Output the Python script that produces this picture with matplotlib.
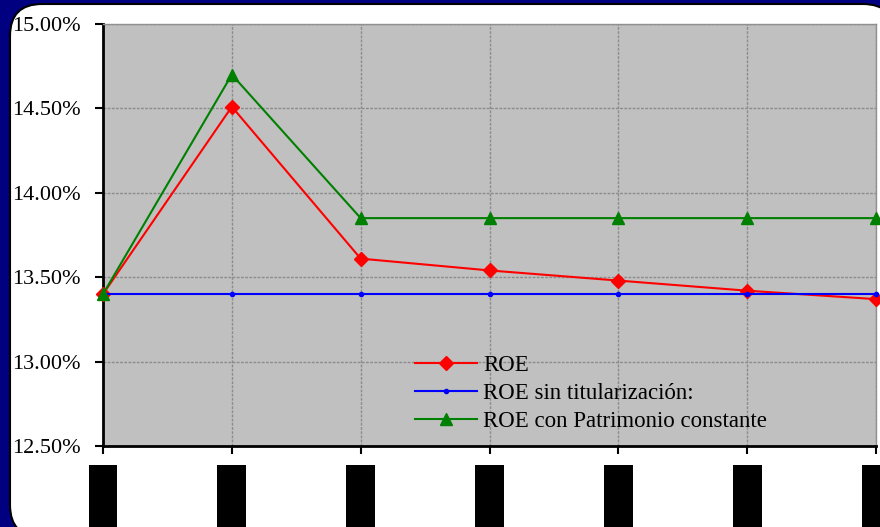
import matplotlib.pyplot as plt
from matplotlib.patches import FancyBboxPatch, Rectangle
from matplotlib.transforms import blended_transform_factory
from matplotlib.ticker import FuncFormatter

plt.rcParams['font.family'] = ['Liberation Serif', 'DejaVu Serif']

# ROE series, seven periods
periods = [0, 1, 2, 3, 4, 5, 6]
roe = [13.40, 14.51, 13.61, 13.54, 13.48, 13.42, 13.37]
roe_sin = [13.40, 13.40, 13.40, 13.40, 13.40, 13.40, 13.40]
roe_const = [13.40, 14.70, 13.85, 13.85, 13.85, 13.85, 13.85]

fig = plt.figure(figsize=(8.8, 5.27), dpi=100, facecolor='#000080')

# white rounded panel behind the chart
panel = FancyBboxPatch((10, -10), 885, 533, boxstyle='round,pad=0,rounding_size=32',
                       facecolor='white', edgecolor='black', linewidth=1.5,
                       transform=None, zorder=-10)
fig.patches.append(panel)

ax = fig.add_axes([103 / 880, 1 - 446 / 527, (876 - 103) / 880, (446 - 24) / 527])
ax.set_facecolor('#C0C0C0')

ax.plot(periods, roe, color='red', lw=1.5, marker='D', ms=7.5, clip_on=False, zorder=3, label='ROE')
ax.plot(periods, roe_sin, color='blue', lw=1.5, marker='o', ms=3, clip_on=False, zorder=3,
        label='ROE sin titularización:')
ax.plot(periods, roe_const, color='green', lw=1.5, marker='^', ms=9, clip_on=False, zorder=3,
        label='ROE con Patrimonio constante')

ax.set_xlim(0, 6)
ax.set_ylim(12.5, 15.0)
ax.set_yticks([12.5, 13.0, 13.5, 14.0, 14.5, 15.0])
ax.yaxis.set_major_formatter(FuncFormatter(lambda v, p: f'{v:.2f}%'))
ax.set_xticks(periods)
ax.set_xticklabels([])
ax.tick_params(axis='y', direction='out', length=5.8, width=1.5, labelsize=16, pad=10)
ax.tick_params(axis='x', direction='out', length=5.8, width=1.5)

ax.grid(True, ls=(0, (2, 1)), color='#8c8c8c', lw=1)
ax.set_axisbelow(True)
for s in ['left', 'bottom']:
    ax.spines[s].set_linewidth(2)
    ax.spines[s].set_color('black')
for s in ['top', 'right']:
    ax.spines[s].set_linewidth(1)
    ax.spines[s].set_color('#909090')

# category labels shown as solid blocks under each tick
trans = blended_transform_factory(ax.transData, fig.transFigure)
for x in periods:
    ax.add_patch(Rectangle((x - 0.112, -0.01), 0.224, 0.128, transform=trans,
                           facecolor='black', edgecolor='none', clip_on=False))

ax.legend(loc='lower left', bbox_to_anchor=(0.404, 0.034), frameon=False, fontsize=16.5,
          handlelength=2.7, handletextpad=0.27, labelspacing=0.3, borderpad=0,
          borderaxespad=0)

fig.savefig('out.png', dpi=100, facecolor=fig.get_facecolor())
